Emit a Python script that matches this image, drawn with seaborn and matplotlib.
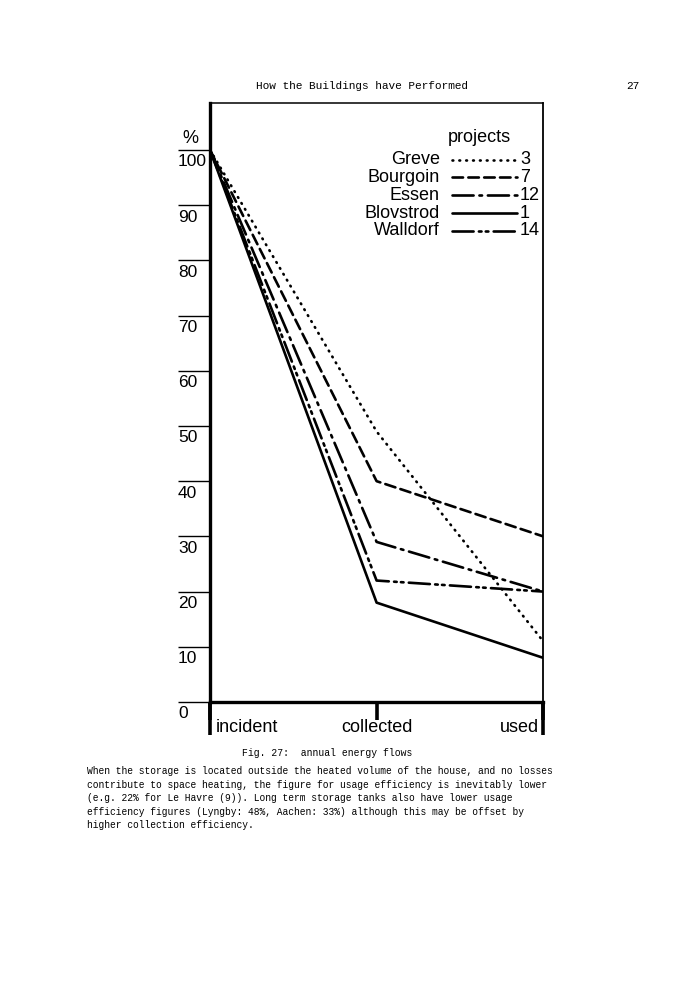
import pandas as pd
import matplotlib.pyplot as plt
import matplotlib.transforms as mtrans
import seaborn as sns
from matplotlib.lines import Line2D

sns.set_style("ticks")
plt.rcParams["font.family"] = ["Liberation Sans", "DejaVu Sans"]
plt.rcParams["text.color"] = "black"
plt.rcParams["axes.edgecolor"] = "black"
plt.rcParams["xtick.color"] = "black"
plt.rcParams["ytick.color"] = "black"

# data (% of incident energy)
stages = ["incident", "collected", "used"]
projects = ["Greve", "Bourgoin", "Essen", "Blovstrod", "Walldorf"]
project_no = ["3", "7", "12", "1", "14"]
greve = [100, 49, 11]
bourgoin = [100, 40, 30]
essen = [100, 29, 20]
blovstrod = [100, 18, 8]
walldorf = [100, 22, 20]
yticks = [0, 10, 20, 30, 40, 50, 60, 70, 80, 90, 100]

series = [greve, bourgoin, essen, blovstrod, walldorf]
rows = []
for name, vals in zip(projects, series):
    for i, v in enumerate(vals):
        rows.append({"project": name, "stage": i, "value": v})
df = pd.DataFrame(rows)

dash_map = {
    "Greve": (0.3, 2.3),
    "Bourgoin": (4, 2),
    "Essen": (8, 2.2, 1, 2.2),
    "Blovstrod": "",
    "Walldorf": (8, 2, 1, 1.6, 1, 2),
}

fig = plt.figure(figsize=(7, 10), dpi=100)
ax = fig.add_axes([0.3, 0.298, 0.476, 0.599])

sns.lineplot(data=df, x="stage", y="value", style="project", dashes=dash_map,
             color="black", lw=1.9, legend=False, ax=ax,
             dash_capstyle="round", solid_capstyle="butt")

ax.set_xlim(0, 2)
ax.set_ylim(0, 108.5)
ax.set_xlabel("")
ax.set_ylabel("")

# spines
ax.spines["top"].set_linewidth(1.1)
ax.spines["right"].set_linewidth(1.3)
for s in ["left", "bottom"]:
    ax.spines[s].set_linewidth(2.4)

# y ticks: long marks with labels underneath
ax.set_yticks(yticks)
ax.set_yticklabels([])
ax.tick_params(axis="y", length=23, width=1.0, direction="out")
for v in yticks:
    ax.text(-0.096, v - 0.8, str(v), transform=ax.get_yaxis_transform(),
            ha="left", va="top", fontsize=12.5)
ax.text(-0.084, 100.6, "%", transform=ax.get_yaxis_transform(),
        ha="left", va="bottom", fontsize=13)

# x ticks
ax.xaxis.remove_overlapping_locs = False
ax.set_xticks([0, 1, 2])
ax.set_xticks([0, 2], minor=True)
ax.tick_params(axis="x", which="major", length=13, width=2.6, direction="out",
               pad=-1, labelsize=13)
ax.tick_params(axis="x", which="minor", length=24, width=2.6, direction="out")
ax.set_xticklabels(stages)
labs = ax.get_xticklabels()
labs[0].set_ha("left")
labs[2].set_ha("right")
labs[0].set_transform(labs[0].get_transform()
                      + mtrans.ScaledTranslation(4 / 72, 0, fig.dpi_scale_trans))
labs[2].set_transform(labs[2].get_transform()
                      + mtrans.ScaledTranslation(-3 / 72, 0, fig.dpi_scale_trans))

# hand-drawn style legend
ax.text(0.715, 0.943, "projects", transform=ax.transAxes, ha="left",
        va="center", fontsize=13)
leg_y = [0.905, 0.876, 0.846, 0.816, 0.787]
for name, no, yy in zip(projects, project_no, leg_y):
    ax.text(0.69, yy, name, transform=ax.transAxes, ha="right", va="center",
            fontsize=13)
    d = dash_map[name]
    ln = Line2D([0.725, 0.92], [yy, yy], transform=ax.transAxes, color="black",
                lw=1.9, dash_capstyle="round")
    if d:
        ln.set_dashes(d)
    ax.add_line(ln)
    ax.text(0.93, yy, no, transform=ax.transAxes, ha="left", va="center",
            fontsize=13)

# page text
mono = ["Liberation Mono", "DejaVu Sans Mono"]
fig.text(0.517, 0.914, "How the Buildings have Performed", family=mono,
         fontsize=8.0, ha="center", va="center")
fig.text(0.914, 0.914, "27", family=mono, fontsize=8.0, ha="right", va="center")
fig.text(0.467, 0.247, "Fig. 27:  annual energy flows", family=mono,
         fontsize=7.0, ha="center", va="center")
para = ("When the storage is located outside the heated volume of the house, and no losses\n"
        "contribute to space heating, the figure for usage efficiency is inevitably lower\n"
        "(e.g. 22% for Le Havre (9)). Long term storage tanks also have lower usage\n"
        "efficiency figures (Lyngby: 48%, Aachen: 33%) although this may be offset by\n"
        "higher collection efficiency.")
fig.text(0.124, 0.234, para, family=mono, fontsize=6.95, ha="left", va="top",
         linespacing=1.45)

fig.savefig("out.png", dpi=100, facecolor="white")
